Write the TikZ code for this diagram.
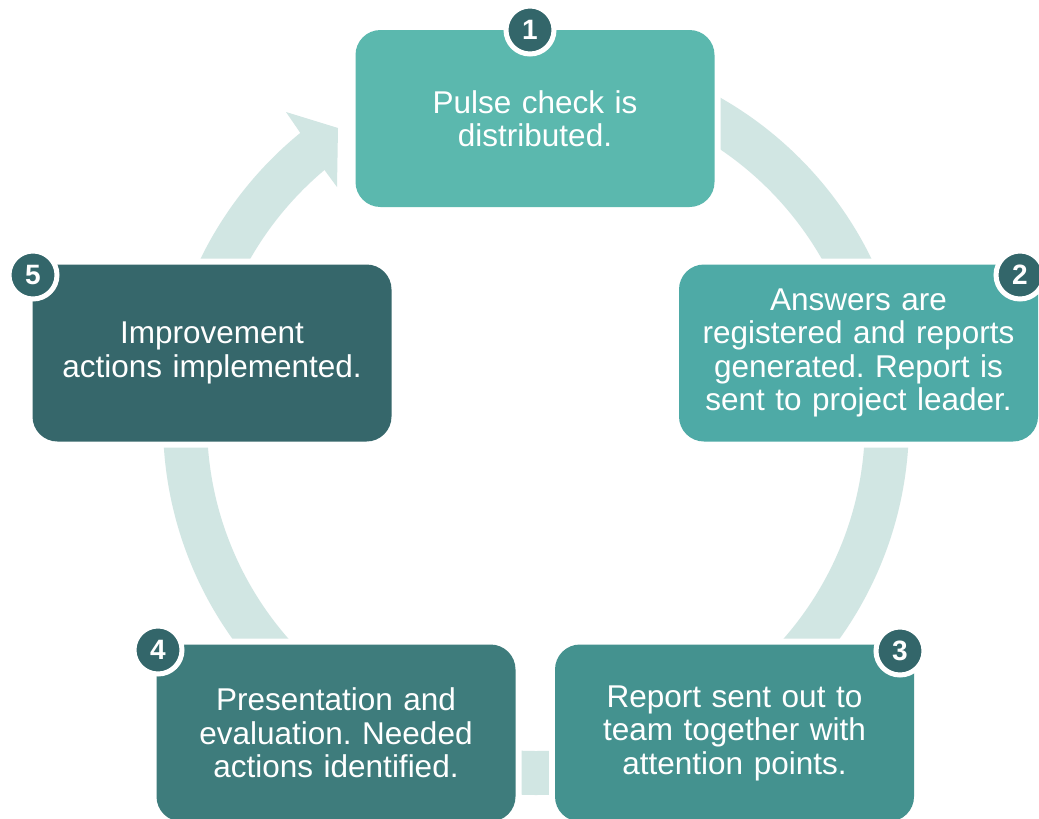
\documentclass[tikz,border=0pt]{standalone}
\usepackage{fontspec}
\setmainfont{Liberation Sans}
\frenchspacing
\definecolor{cA}{HTML}{5BB8AE}
\definecolor{cB}{HTML}{4EAAA6}
\definecolor{cC}{HTML}{44928F}
\definecolor{cD}{HTML}{3E7C7C}
\definecolor{cE}{HTML}{36676B}
\definecolor{badgec}{HTML}{33666A}
\definecolor{ringc}{HTML}{D1E6E3}
\tikzset{
  stepbox/.style={minimum width=359pt, minimum height=177pt, rounded corners=25pt,
    text=white, align=center, inner sep=0pt, text width=350pt,
    font=\fontsize{31.5}{33.5}\selectfont,
    preaction={draw=white, line width=12pt}},
  badge/.style={circle, fill=badgec, draw=white, line width=5pt, minimum size=48pt,
    inner sep=0pt, text=white, font=\fontsize{28}{28}\selectfont\bfseries}
}
\begin{document}
\begin{tikzpicture}[x=1pt,y=-1pt]
\fill[white] (0,0) rectangle (1039,819);
\useasboundingbox (0,0) rectangle (1039,819);
\coordinate (c) at (536,422);
% ring
\begin{scope}
\clip (536,422) -- (536,-400) -- (1500,-400) -- (1500,1500) -- (-500,1500) -- (-500,-350) -- (-89,-350) -- cycle;
\draw[ringc, line width=44pt] (c) circle[radius=351pt];
\end{scope}
\fill[ringc] (299,131) -- (286,112) -- (338,128) -- (337,187) -- (323,168) -- cycle;
% boxes
\node[stepbox, fill=cA] (b1) at (535,118.5) {Pulse check is\\distributed.};
\node[stepbox, fill=cB] (b2) at (858.5,353) {Answers are\\registered and reports\\generated. Report is\\sent to project leader.};
\node[stepbox, fill=cC] (b3) at (734.5,733) {Report sent out to\\team together with\\attention points.};
\node[stepbox, fill=cD] (b4) at (336,733) {Presentation and\\evaluation. Needed\\actions identified.};
\node[stepbox, fill=cE] (b5) at (212,353) {Improvement\\actions implemented.};
% badges
\node[badge] (n1) at (530,30) {1};
\node[badge] (n2) at (1020,275) {2};
\node[badge] (n3) at (900,651) {3};
\node[badge] (n4) at (158,650) {4};
\node[badge] (n5) at (33,275) {5};
\end{tikzpicture}
\end{document}
